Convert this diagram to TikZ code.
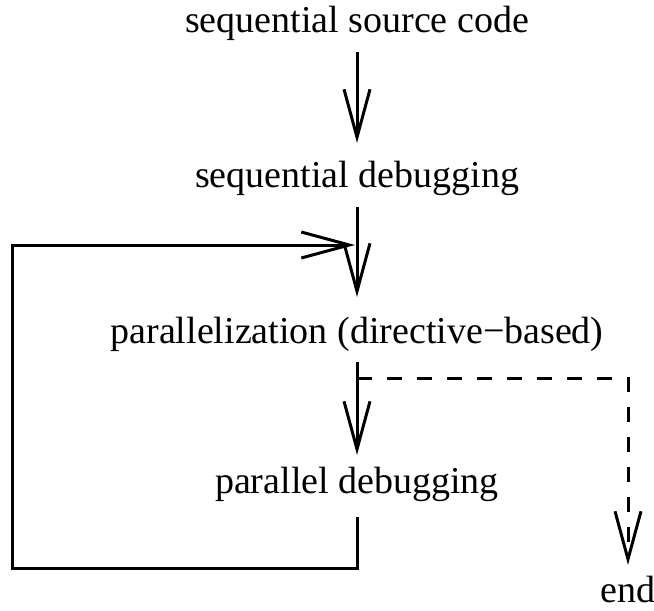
\documentclass[tikz,border=0pt]{standalone}
\usepackage{fontspec}
\setmainfont{Liberation Serif}
\usetikzlibrary{arrows.meta,calc}
\begin{document}
\begin{tikzpicture}[x=1pt,y=-1pt,
  lbl/.style={anchor=base,inner sep=0pt,font=\fontsize{38}{44}\selectfont},
  conn/.style={line width=3pt},
  arr/.style={conn,-{Straight Barb[length=48pt,width=26pt]}},
  dsh/.style={arr,dash pattern=on 15pt off 15pt}]
\useasboundingbox (0,0) rectangle (654,611);
\node[lbl] (t1) at (357,32) {sequential source code};
\node[lbl] (t2) at (357,187) {sequential debugging};
\node[lbl] (t3) at (357,343) {parallelization (directive\textminus based)};
\node[lbl] (t4) at (357,493) {parallel debugging};
\node[lbl] (e) at (628,602) {end};
\coordinate (c1) at (12,568);
\coordinate (c2) at (12,245);
\draw[arr] ([yshift=-20pt]t1.base) -- ([yshift=44pt]t2.base);
\draw[arr] ([yshift=-20pt]t2.base) -- ([yshift=46pt]t3.base);
\draw[arr] ([yshift=-19pt]t3.base) -- ([yshift=38pt]t4.base);
\draw[arr] ([yshift=-24pt]t4.base) |- (c1) -- (c2) -- ($(c2)+(343,0)$);
\draw[dsh] ([yshift=-35pt]t3.base) -| ([yshift=37pt]e.base);
\end{tikzpicture}
\end{document}
